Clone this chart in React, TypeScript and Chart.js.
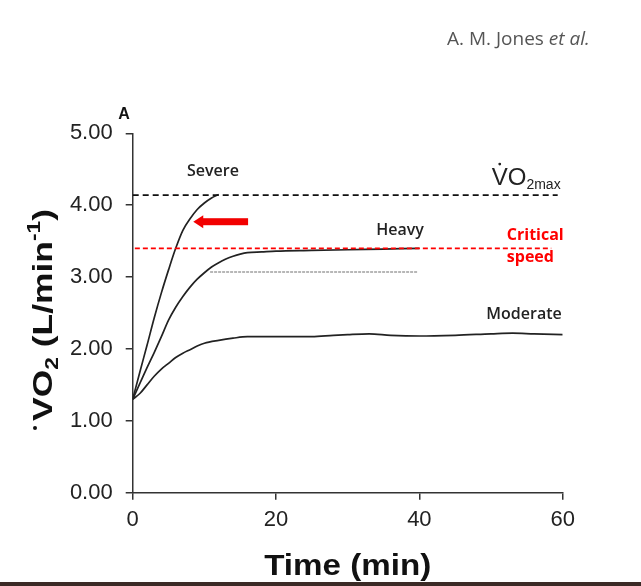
import React, { useEffect, useRef } from "react";
import { Chart, registerables } from "chart.js";
Chart.register(...registerables);

// ---- data (time in min, VO2 in L/min) ----
const severeTime = [0, 1, 2, 3, 4, 5, 6, 7, 8, 9, 10, 11, 12];
const severeVO2 = [1.3, 1.68, 2.05, 2.43, 2.78, 3.1, 3.4, 3.65, 3.81, 3.94, 4.03, 4.1, 4.15];

const heavyTime = [0, 1, 2, 3, 4, 5, 6, 7, 8, 9, 10, 11, 12, 13, 14, 15, 16, 18, 20, 25, 30, 35, 40];
const heavyVO2 = [1.3, 1.52, 1.74, 1.95, 2.17, 2.4, 2.58, 2.73, 2.86, 2.97, 3.06, 3.14, 3.2, 3.25, 3.29, 3.32, 3.34, 3.35, 3.36, 3.37, 3.38, 3.39, 3.4];

const moderateTime = [0, 1, 2, 3, 4, 5, 6, 7, 8, 9, 10, 12, 14, 16, 20, 25, 28, 30, 33, 36, 40, 45, 50, 53, 56, 60];
const moderateVO2 = [1.3, 1.38, 1.5, 1.62, 1.72, 1.8, 1.88, 1.94, 1.99, 2.04, 2.08, 2.12, 2.15, 2.17, 2.17, 2.17, 2.19, 2.2, 2.21, 2.19, 2.18, 2.19, 2.21, 2.22, 2.21, 2.2];

const vo2maxLevel = 4.14;
const vo2maxSpan = [0, 59.3];
const criticalLevel = 3.4;
const criticalSpan = [0.3, 58.4];
const heavyRefLevel = 3.07;
const heavyRefSpan = [10.8, 39.7];
const arrowLevel = 3.77;
const arrowTail = 16.1;
const arrowTip = 8.45;

const xTicks = [0, 20, 40, 60];
const yTicks = [0, 1, 2, 3, 4, 5];

// label anchors (data units)
const severeLabel = { t: 11.2, v: 4.47, text: "Severe" };
const heavyLabel = { t: 37.3, v: 3.65, text: "Heavy" };
const moderateLabel = { t: 54.6, v: 2.48, text: "Moderate" };
const criticalLabel = { t: 52.2, v1: 3.58, v2: 3.27, l1: "Critical", l2: "speed" };
const vo2maxLabel = { t: 50.1, v: 4.28 };

const toPts = (xs: number[], ys: number[]) => xs.map((x, i) => ({ x, y: ys[i] }));
const spanPts = (span: number[], level: number) => span.map((x) => ({ x, y: level }));

type Seg = { text: string; font: string; dy: number };

function drawSegs(ctx: CanvasRenderingContext2D, segs: Seg[], startX: number) {
  let x = startX;
  for (const s of segs) {
    ctx.font = s.font;
    ctx.fillText(s.text, x, s.dy);
    x += ctx.measureText(s.text).width;
  }
}
function segsWidth(ctx: CanvasRenderingContext2D, segs: Seg[]) {
  let w = 0;
  for (const s of segs) {
    ctx.font = s.font;
    w += ctx.measureText(s.text).width;
  }
  return w;
}

const annotPlugin = {
  id: "annot",
  afterDraw(chart: any) {
    const { ctx } = chart;
    const xs = chart.scales.x;
    const ys = chart.scales.y;
    const px = (t: number) => xs.getPixelForValue(t);
    const py = (v: number) => ys.getPixelForValue(v);
    ctx.save();

    // red arrow
    const tip = px(arrowTip);
    const tail = px(arrowTail);
    const ay = py(arrowLevel);
    ctx.fillStyle = "#f20000";
    ctx.fillRect(tip + 9, ay - 3.5, tail - tip - 9, 7);
    ctx.beginPath();
    ctx.moveTo(tip, ay);
    ctx.lineTo(tip + 10, ay - 6.5);
    ctx.lineTo(tip + 10, ay + 6.5);
    ctx.closePath();
    ctx.fill();

    // series labels
    ctx.fillStyle = "#222";
    ctx.textAlign = "center";
    ctx.textBaseline = "middle";
    ctx.font = "600 16px 'Open Sans'";
    for (const l of [severeLabel, heavyLabel, moderateLabel]) {
      ctx.fillText(l.text, px(l.t), py(l.v));
    }
    ctx.fillStyle = "#f00";
    ctx.textAlign = "left";
    ctx.font = "bold 16px 'Open Sans'";
    ctx.fillText(criticalLabel.l1, px(criticalLabel.t), py(criticalLabel.v1));
    ctx.fillText(criticalLabel.l2, px(criticalLabel.t), py(criticalLabel.v2));

    // VO2max label
    ctx.fillStyle = "#222";
    ctx.textBaseline = "alphabetic";
    const vx = px(vo2maxLabel.t);
    const vy = py(vo2maxLabel.v);
    ctx.font = "24px Arial, 'Liberation Sans'";
    ctx.fillText("VO", vx, vy);
    const vw = ctx.measureText("VO").width;
    const vW = ctx.measureText("V").width;
    ctx.font = "14px Arial, 'Liberation Sans'";
    ctx.fillText("2max", vx + vw, vy + 4);
    ctx.beginPath();
    ctx.arc(vx + vW / 2, vy - 21, 1.4, 0, Math.PI * 2);
    ctx.fill();

    // panel letter
    ctx.fillStyle = "#111";
    ctx.font = "bold 16px Arial, 'Liberation Sans'";
    ctx.textAlign = "center";
    ctx.textBaseline = "middle";
    ctx.fillText("A", 124, 115);

    // x title
    ctx.textAlign = "left";
    ctx.textBaseline = "alphabetic";
    const xt = "Time (min)";
    ctx.font = "bold 30px Arial, 'Liberation Sans'";
    const xtw = ctx.measureText(xt).width;
    const xsx = 167 / xtw;
    const cx = (chart.chartArea.left + chart.chartArea.right) / 2;
    ctx.save();
    ctx.translate(cx - 167 / 2, 575);
    ctx.scale(xsx, 1);
    ctx.fillText(xt, 0, 0);
    ctx.restore();

    // y title
    const big = "bold 28px Arial, 'Liberation Sans'";
    const small = "bold 18px Arial, 'Liberation Sans'";
    const segs: Seg[] = [
      { text: "V", font: big, dy: 0 },
      { text: "O", font: big, dy: 0 },
      { text: "2", font: small, dy: 6 },
      { text: " (L/min", font: big, dy: 0 },
      { text: "-1", font: small, dy: -12 },
      { text: ")", font: big, dy: 0 },
    ];
    const natural = segsWidth(ctx, segs);
    const target = 212;
    const ysx = target / natural;
    const cy = (chart.chartArea.top + chart.chartArea.bottom) / 2;
    ctx.save();
    ctx.translate(52, cy + 2);
    ctx.rotate(-Math.PI / 2);
    ctx.save();
    ctx.scale(ysx, 1);
    drawSegs(ctx, segs, -natural / 2);
    ctx.restore();
    ctx.beginPath();
    ctx.arc(-target / 2 - 7, -17, 2, 0, Math.PI * 2);
    ctx.fill();
    ctx.restore();

    // header
    ctx.fillStyle = "#555";
    ctx.font = "19px 'Open Sans'";
    const h1 = "A. M. Jones ";
    ctx.fillText(h1, 447, 45);
    const hw = ctx.measureText(h1).width;
    ctx.font = "italic 19px 'Open Sans'";
    ctx.fillText("et al.", 447 + hw, 45);

    // bottom strip
    ctx.fillStyle = "#3b2a26";
    ctx.fillRect(0, 582, chart.width, 4);
    ctx.restore();
  },
};

export default function App() {
  const ref = useRef<HTMLCanvasElement | null>(null);
  useEffect(() => {
    if (!ref.current) return;
    const lineStyle = {
      borderColor: "#222",
      borderWidth: 1.7,
      pointRadius: 0,
      fill: false,
      cubicInterpolationMode: "monotone" as const,
    };
    const chart = new Chart(ref.current, {
      type: "line",
      data: {
        datasets: [
          {
            label: "Critical speed",
            data: spanPts(criticalSpan, criticalLevel),
            borderColor: "#f00",
            borderWidth: 1.8,
            borderDash: [5, 3],
            pointRadius: 0,
          },
          {
            label: "VO2max",
            data: spanPts(vo2maxSpan, vo2maxLevel),
            borderColor: "#111",
            borderWidth: 1.8,
            borderDash: [6, 4],
            pointRadius: 0,
          },
          {
            label: "Heavy baseline",
            data: spanPts(heavyRefSpan, heavyRefLevel),
            borderColor: "#a0a0a0",
            borderWidth: 1.5,
            borderDash: [3, 1],
            pointRadius: 0,
          },
          { label: "Severe", data: toPts(severeTime, severeVO2), ...lineStyle },
          { label: "Heavy", data: toPts(heavyTime, heavyVO2), ...lineStyle },
          { label: "Moderate", data: toPts(moderateTime, moderateVO2), ...lineStyle },
        ],
      },
      options: {
        animation: false,
        responsive: false,
        devicePixelRatio: 1,
        layout: { padding: { top: 133.3, right: 78.3, left: 0, bottom: 0 } },
        plugins: { legend: { display: false }, tooltip: { enabled: false } },
        scales: {
          x: {
            type: "linear",
            min: 0,
            max: 60,
            afterBuildTicks: (s: any) => {
              s.ticks = xTicks.map((value) => ({ value }));
            },
            afterFit: (s: any) => {
              s.height = 93.3;
            },
            ticks: {
              font: { family: "Arial, 'Liberation Sans'", size: 22 },
              color: "#222",
              padding: 7,
              maxRotation: 0,
            },
            grid: { drawOnChartArea: false, drawTicks: true, tickLength: 7, color: "#333", lineWidth: 1.5 },
            border: { display: true, color: "#333", width: 1.5 },
          },
          y: {
            type: "linear",
            min: 0,
            max: 5,
            afterBuildTicks: (s: any) => {
              s.ticks = yTicks.map((value) => ({ value }));
            },
            afterFit: (s: any) => {
              s.width = 132.7;
            },
            ticks: {
              font: { family: "Arial, 'Liberation Sans'", size: 22 },
              color: "#222",
              padding: 13,
              callback: (v: any) => Number(v).toFixed(2),
            },
            grid: { drawOnChartArea: false, drawTicks: true, tickLength: 7, color: "#333", lineWidth: 1.5 },
            border: { display: true, color: "#333", width: 1.5 },
          },
        },
      },
      plugins: [annotPlugin],
    });
    return () => chart.destroy();
  }, []);
  return (
    <div style={{ position: "absolute", left: 0, top: 0, width: 641, height: 586, background: "#fff" }}>
      <canvas ref={ref} width={641} height={586} />
    </div>
  );
}
